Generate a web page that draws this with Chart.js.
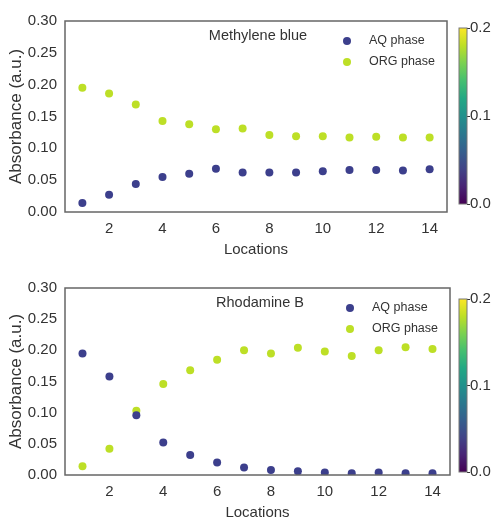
<!DOCTYPE html>
<html>
<head>
<meta charset="utf-8">
<script src="https://cdn.jsdelivr.net/npm/chart.js@4/dist/chart.umd.min.js"></script>
<style>
html,body{margin:0;padding:0;background:#fff;overflow:hidden;width:496px;height:518px;}
canvas{position:absolute;}
</style>
</head>
<body>
<canvas id="c1" style="left:0;top:0" width="460" height="262"></canvas>
<canvas id="cb1" style="left:450px;top:0" width="46" height="262"></canvas>
<canvas id="c2" style="left:0;top:263px" width="462" height="262"></canvas>
<canvas id="cb2" style="left:450px;top:263px" width="46" height="262"></canvas>
<script>
const locations = [1,2,3,4,5,6,7,8,9,10,11,12,13,14];
const mbAQ  = [0.014,0.027,0.044,0.055,0.060,0.068,0.062,0.062,0.062,0.064,0.066,0.066,0.065,0.067];
const mbORG = [0.195,0.186,0.169,0.143,0.138,0.130,0.131,0.121,0.119,0.119,0.117,0.118,0.117,0.117];
const rbAQ  = [0.195,0.158,0.096,0.052,0.032,0.020,0.012,0.008,0.006,0.004,0.003,0.004,0.003,0.003];
const rbORG = [0.014,0.042,0.103,0.146,0.168,0.185,0.200,0.195,0.204,0.198,0.191,0.200,0.205,0.202];
const xTicks = [2,4,6,8,10,12,14];
const yTicks = [0.00,0.05,0.10,0.15,0.20,0.25,0.30];
const cbTicks = [0.0,0.1,0.2];
const seriesNames = ['AQ phase','ORG phase'];
const panelTitles = ['Methylene blue','Rhodamine B'];

const AQ_COLOR = '#3c3f8c';
const ORG_COLOR = '#bddf26';
const TXT = '#333333';
const FONT = "'Liberation Sans', Arial, sans-serif";

const viridis = ['#440154','#482475','#414487','#355f8d','#2a788e','#21918c','#22a884','#44bf70','#7ad151','#bddf26','#fde725'];

const framePlugin = {
  id:'frame',
  afterDraw(chart, args, opts){
    const {ctx, chartArea:a} = chart;
    ctx.save();
    ctx.strokeStyle = '#666';
    ctx.lineWidth = 1.5;
    ctx.strokeRect(a.left, a.top, a.right-a.left, a.bottom-a.top);
    ctx.fillStyle = TXT;
    ctx.font = "14.5px " + FONT;
    ctx.textBaseline = 'middle';
    ctx.textAlign = 'center';
    ctx.fillText(opts.title, a.left + opts.titleX, a.top + 14.5);
    ctx.font = "12.5px " + FONT;
    ctx.textAlign = 'left';
    chart.data.datasets.forEach((ds, i) => {
      const y = a.top + 20 + i*21;
      ctx.beginPath();
      ctx.fillStyle = ds.backgroundColor;
      ctx.arc(a.right - 100, y, 4, 0, Math.PI*2);
      ctx.fill();
      ctx.fillStyle = TXT;
      ctx.fillText(ds.label, a.right - 78, y);
    });
    ctx.restore();
  }
};

function makePanel(id, aq, org, padTop, padRight, title, titleX){
  new Chart(document.getElementById(id), {
    type:'scatter',
    data:{
      datasets:[
        {label:seriesNames[0], data:locations.map((x,i)=>({x, y:aq[i]})), backgroundColor:AQ_COLOR, borderColor:AQ_COLOR, pointRadius:4, borderWidth:0},
        {label:seriesNames[1], data:locations.map((x,i)=>({x, y:org[i]})), backgroundColor:ORG_COLOR, borderColor:ORG_COLOR, pointRadius:4, borderWidth:0}
      ]
    },
    options:{
      responsive:false, animation:false,
      layout:{padding:{top:padTop, right:padRight, left:0, bottom:0}},
      plugins:{legend:{display:false}, tooltip:{enabled:false}, frame:{title, titleX}},
      scales:{
        x:{
          type:'linear', min:0.35, max:14.65,
          afterBuildTicks(s){ s.ticks = xTicks.map(v=>({value:v})); },
          afterFit(s){ s.height = 50; },
          grid:{display:false, drawTicks:false}, border:{display:false},
          ticks:{color:TXT, font:{size:15, family:FONT}, padding:8, maxRotation:0},
          title:{display:true, text:'Locations', color:TXT, font:{size:15, family:FONT}, padding:{top:0,bottom:3}}
        },
        y:{
          type:'linear', min:0, max:0.3,
          afterBuildTicks(s){ s.ticks = yTicks.map(v=>({value:v})); },
          afterFit(s){ s.width = 65; },
          grid:{display:false, drawTicks:false}, border:{display:false},
          ticks:{color:TXT, font:{size:15, family:FONT}, padding:8, callback:v=>Number(v).toFixed(2)},
          title:{display:true, text:'Absorbance (a.u.)', color:TXT, font:{size:17, family:FONT}, padding:{top:6,bottom:0}}
        }
      }
    },
    plugins:[framePlugin]
  });
}

const gradPlugin = {
  id:'grad',
  beforeDatasetsDraw(chart){
    const {ctx, chartArea:a} = chart;
    const g = ctx.createLinearGradient(0, a.bottom, 0, a.top);
    viridis.forEach((c,i)=>g.addColorStop(i/(viridis.length-1), c));
    ctx.save();
    ctx.fillStyle = g;
    ctx.fillRect(a.left, a.top, a.right-a.left, a.bottom-a.top);
    ctx.strokeStyle = '#777';
    ctx.lineWidth = 1;
    ctx.strokeRect(a.left, a.top, a.right-a.left, a.bottom-a.top);
    ctx.restore();
  }
};

function makeColorbar(id, padTop, padBottom){
  new Chart(document.getElementById(id), {
    type:'scatter',
    data:{datasets:[]},
    options:{
      responsive:false, animation:false,
      layout:{padding:{top:padTop, bottom:padBottom, left:9, right:0}},
      plugins:{legend:{display:false}, tooltip:{enabled:false}},
      scales:{
        x:{display:false, min:0, max:1},
        y:{
          position:'right', min:0, max:0.2,
          afterBuildTicks(s){ s.ticks = cbTicks.map(v=>({value:v})); },
          afterFit(s){ s.width = 29; },
          grid:{display:true, drawOnChartArea:false, drawTicks:true, tickLength:3, color:'#333', lineWidth:1},
          border:{display:false},
          ticks:{color:TXT, font:{size:15, family:FONT}, padding:0, callback:v=>Number(v).toFixed(1)}
        }
      }
    },
    plugins:[gradPlugin]
  });
}

makePanel('c1', mbAQ, mbORG, 21, 13, panelTitles[0], 193);
makePanel('c2', rbAQ, rbORG, 25, 12, panelTitles[1], 195);
makeColorbar('cb1', 28, 58);
makeColorbar('cb2', 36, 53);
</script>
</body>
</html>
